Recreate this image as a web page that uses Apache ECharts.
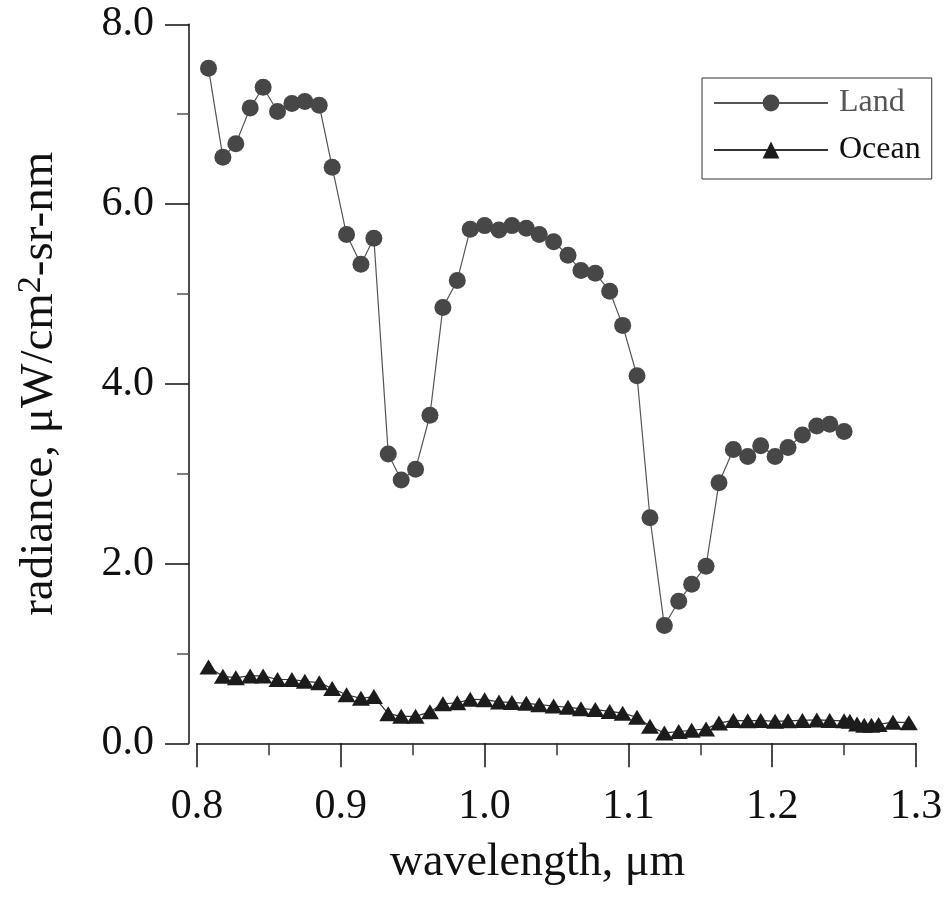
<!DOCTYPE html>
<html>
<head>
<meta charset="utf-8">
<script src="https://cdn.jsdelivr.net/npm/echarts@6/dist/echarts.min.js"></script>
<style>
  html, body { margin: 0; padding: 0; background: #fff; }
  #chart { width: 948px; height: 898px; }
</style>
</head>
<body>
<div id="chart"></div>
<script>
// wavelengths (µm) shared by both series
const wavelength = [
  0.808, 0.818, 0.827, 0.837, 0.846, 0.856, 0.866, 0.875, 0.885, 0.894,
  0.904, 0.914, 0.923, 0.933, 0.942, 0.952, 0.962, 0.971, 0.981, 0.990,
  1.000, 1.010, 1.019, 1.029, 1.038, 1.048, 1.058, 1.067, 1.077, 1.087,
  1.096, 1.106, 1.115, 1.125, 1.135, 1.144, 1.154, 1.163, 1.173, 1.183,
  1.192, 1.202, 1.211, 1.221, 1.231, 1.240, 1.250
];
// extra ocean samples past 1.25 µm
const oceanExtraWave = [1.254, 1.259, 1.264, 1.269, 1.274, 1.284, 1.295];

const land = [
  7.51, 6.52, 6.67, 7.07, 7.30, 7.03, 7.12, 7.14, 7.10, 6.41,
  5.66, 5.33, 5.62, 3.22, 2.93, 3.05, 3.65, 4.85, 5.15, 5.72,
  5.76, 5.71, 5.76, 5.73, 5.66, 5.58, 5.43, 5.26, 5.23, 5.03,
  4.65, 4.09, 2.51, 1.31, 1.58, 1.77, 1.97, 2.90, 3.27, 3.19,
  3.31, 3.19, 3.29, 3.43, 3.53, 3.55, 3.47
];
const ocean = [
  0.85, 0.745, 0.73, 0.75, 0.75, 0.71, 0.71, 0.69, 0.675, 0.61,
  0.54, 0.50, 0.52, 0.33, 0.30, 0.30, 0.35, 0.44, 0.45, 0.49,
  0.485, 0.46, 0.455, 0.445, 0.43, 0.415, 0.40, 0.385, 0.375, 0.355,
  0.335, 0.29, 0.19, 0.115, 0.13, 0.145, 0.16, 0.225, 0.255, 0.25,
  0.255, 0.245, 0.25, 0.255, 0.26, 0.255, 0.25
];
const oceanExtra = [0.245, 0.215, 0.20, 0.20, 0.21, 0.235, 0.23];

const font = 'Liberation Serif';

const landData = wavelength.map((w, i) => [w, land[i]]);
const oceanData = wavelength.map((w, i) => [w, ocean[i]])
  .concat(oceanExtraWave.map((w, i) => [w, oceanExtra[i]]));

const myChart = echarts.init(document.getElementById('chart'));

const option = {
  backgroundColor: '#fff',
  animation: false,
  grid: { left: 197, right: 32, top: 24.3, bottom: 154.7, outerBoundsMode: 'none', containLabel: false },
  legend: {
    orient: 'vertical',
    left: 702,
    top: 78,
    padding: [7, 11, 11, 11],
    borderColor: '#333',
    borderWidth: 1,
    itemWidth: 114,
    itemHeight: 21,
    itemGap: 11,
    textStyle: { fontFamily: font, fontSize: 32, lineHeight: 36, color: '#111', padding: [0, 0, 0, 6] },
    data: [
      { name: 'Land', textStyle: { color: '#555' } },
      { name: 'Ocean' }
    ]
  },
  xAxis: {
    type: 'value',
    min: 0.8,
    max: 1.3,
    interval: 0.1,
    offset: 3,
    name: 'wavelength, μm',
    nameLocation: 'middle',
    nameGap: 94,
    nameTextStyle: { fontFamily: font, fontSize: 46, color: '#111', padding: [0, 38, 0, 0] },
    axisLine: { lineStyle: { color: '#111', width: 1.5 } },
    axisTick: { inside: false, length: 24, lineStyle: { color: '#111', width: 1.5 } },
    minorTick: { show: true, splitNumber: 2, length: 12, lineStyle: { color: '#333', width: 1.5 } },
    axisLabel: {
      fontFamily: font, fontSize: 42, color: '#111', margin: 40,
      formatter: v => v.toFixed(1)
    },
    splitLine: { show: false }
  },
  yAxis: {
    type: 'value',
    min: 0,
    max: 8,
    interval: 2,
    offset: 8,
    name: 'radiance, μW/cm{sup|2}-sr-nm',
    nameLocation: 'middle',
    nameGap: 123,
    nameRotate: 90,
    nameTextStyle: {
      fontFamily: font, fontSize: 47, color: '#111',
      rich: {
        sup: { fontFamily: font, fontSize: 34, color: '#111', padding: [0, 0, 18, 0] }
      }
    },
    axisLine: { show: true, lineStyle: { color: '#111', width: 1.5 } },
    axisTick: { show: true, inside: false, length: 24, lineStyle: { color: '#111', width: 1.5 } },
    minorTick: { show: true, splitNumber: 2, length: 12, lineStyle: { color: '#555', width: 1.5 } },
    axisLabel: {
      fontFamily: font, fontSize: 42, color: '#111', margin: 35,
      formatter: v => v.toFixed(1)
    },
    splitLine: { show: false }
  },
  series: [
    {
      name: 'Land',
      type: 'line',
      data: landData,
      symbol: 'circle',
      symbolSize: 17,
      itemStyle: { color: '#474747' },
      lineStyle: { color: '#555', width: 1.2 }
    },
    {
      name: 'Ocean',
      type: 'line',
      data: oceanData,
      symbol: 'triangle',
      symbolSize: [18, 15],
      itemStyle: { color: '#1c1c1c' },
      lineStyle: { color: '#333', width: 1.2 }
    }
  ]
};

myChart.setOption(option);
</script>
</body>
</html>
